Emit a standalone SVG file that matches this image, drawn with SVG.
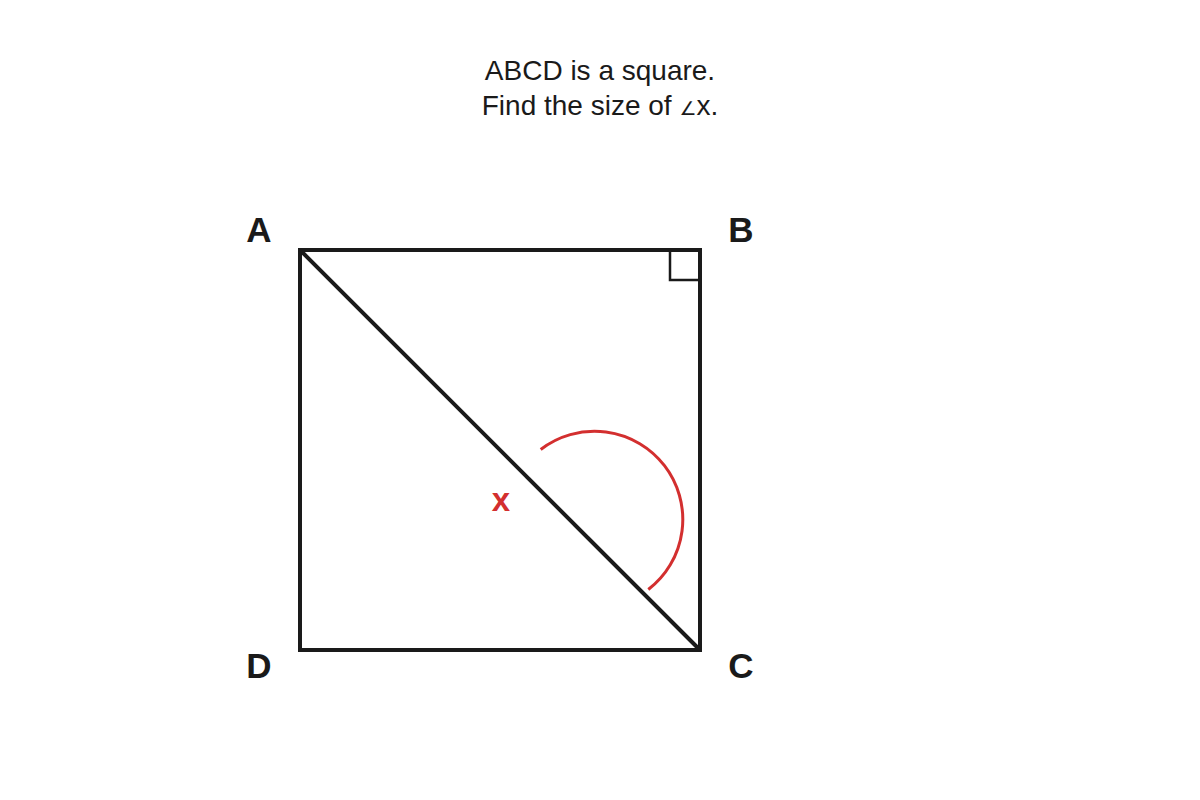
<svg xmlns="http://www.w3.org/2000/svg" width="1200" height="800" viewBox="0 0 1200 800">
<style>
.title{font-family:"Liberation Sans",Arial,sans-serif;font-size:28px;fill:#1a1a1a;text-anchor:middle}
.lbl{font-family:"Liberation Sans",Arial,sans-serif;font-size:35px;font-weight:bold;fill:#1a1a1a;text-anchor:middle}
.edge{stroke:#1a1a1a;stroke-width:4;fill:none}
</style>
<rect width="1200" height="800" fill="#fff"/>
<g id="title">
<text class="title" x="600" y="80">ABCD is a square.</text>
<text class="title" x="600" y="115">Find the size of <tspan font-family="'DejaVu Sans',sans-serif" font-size="19">∠</tspan>x.</text>
</g>
<g id="square">
<rect class="edge" x="300" y="250" width="400" height="400"/>
<path d="M670 250 V280 H700" fill="none" stroke="#1a1a1a" stroke-width="2.5"/>
</g>
<g id="connectors">
<line class="edge" x1="300" y1="250" x2="700" y2="650"/>
</g>
<g id="angle-x">
<path d="M540.7 449.5 A88 88 0 0 1 648.3 589.5" fill="none" stroke="#d32f2f" stroke-width="3"/>
<text x="501" y="511" font-family="'Liberation Sans',Arial,sans-serif" font-size="33" font-weight="bold" fill="#d32f2f" text-anchor="middle">x</text>
</g>
<g id="labels">
<text class="lbl" x="259" y="242">A</text>
<text class="lbl" x="741" y="242">B</text>
<text class="lbl" x="741" y="678">C</text>
<text class="lbl" x="259" y="678">D</text>
</g>
</svg>
